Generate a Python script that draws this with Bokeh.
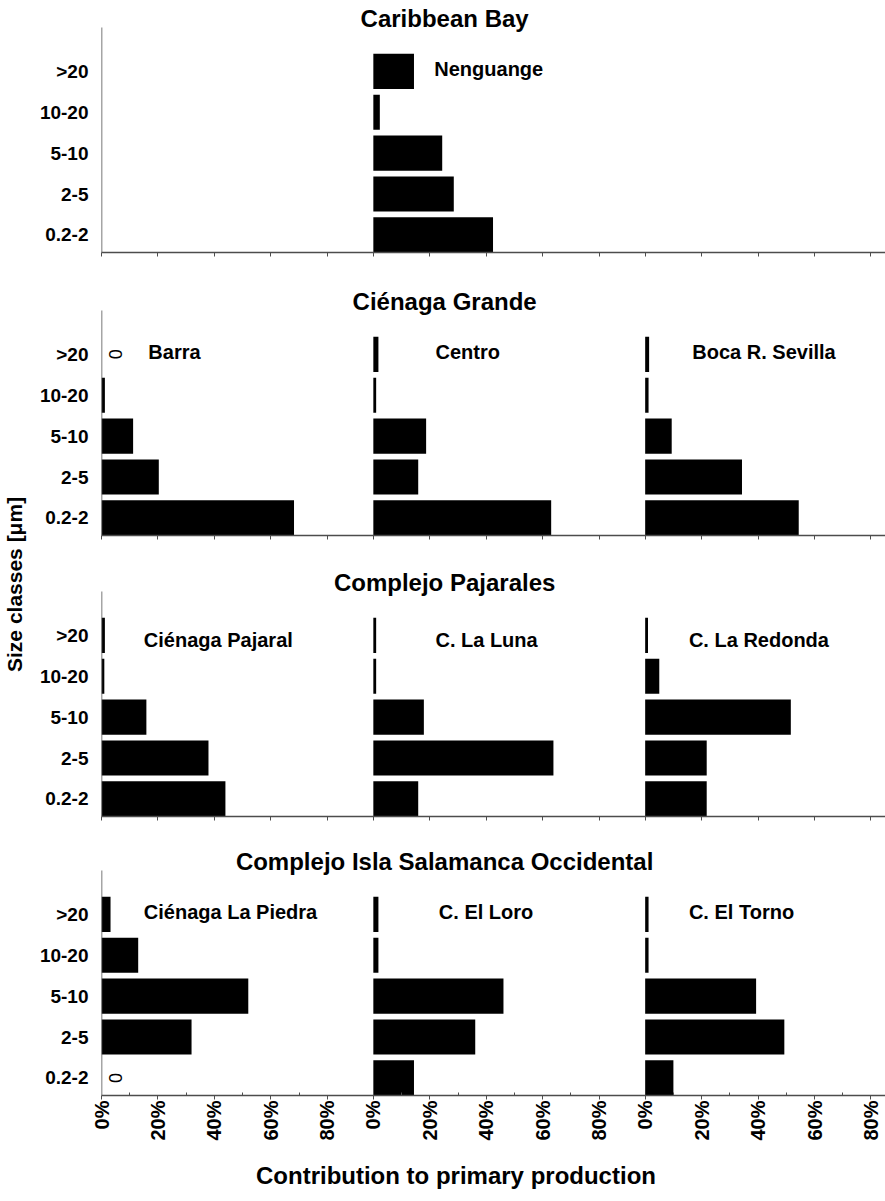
import math
from bokeh.plotting import figure
from bokeh.models import Range1d, FixedTicker
from bokeh.layouts import column, row
from bokeh.embed import file_html
from bokeh.resources import INLINE
from bokeh.core.properties import value

# ---------------- data ----------------
size_classes = ["0.2-2", "2-5", "5-10", "10-20", ">20"]   # bottom -> top
pct_ticks = [0, 20, 40, 60, 80]
pct_labels = ["0%", "20%", "40%", "60%", "80%"]
pct_minor = [10, 30, 50, 70]

group_titles = ["Caribbean Bay", "Ciénaga Grande", "Complejo Pajarales",
                "Complejo Isla Salamanca Occidental"]

# % contribution per size class (0.2-2, 2-5, 5-10, 10-20, >20)
nenguange = [42.4, 28.5, 24.4, 2.3, 14.4]
barra = [68.2, 20.3, 11.2, 1.2, 0.0]
centro = [63.0, 15.9, 18.7, 1.0, 1.8]
boca_sevilla = [54.4, 34.3, 9.4, 1.2, 1.4]
cienaga_pajaral = [43.9, 37.9, 15.9, 1.0, 1.2]
la_luna = [15.9, 63.8, 17.9, 1.0, 1.0]
la_redonda = [21.8, 21.8, 51.6, 5.0, 1.0]
la_piedra = [0.0, 31.9, 52.0, 13.0, 3.2]
el_loro = [14.4, 36.1, 46.1, 1.8, 1.8]
el_torno = [10.0, 49.3, 39.3, 1.2, 1.2]

stations = [
    [(1, "Nenguange", nenguange)],
    [(0, "Barra", barra), (1, "Centro", centro), (2, "Boca R. Sevilla", boca_sevilla)],
    [(0, "Ciénaga Pajaral", cienaga_pajaral), (1, "C. La Luna", la_luna),
     (2, "C. La Redonda", la_redonda)],
    [(0, "Ciénaga La Piedra", la_piedra), (1, "C. El Loro", el_loro),
     (2, "C. El Torno", el_torno)],
]

# ---------------- layout / style ----------------
FONT = value("Liberation Sans")
AXC = "#4d4d4d"
PX100 = 283.0          # px per 100 %
COL_W = 0.963          # column spacing (fraction units)
FRAME_W = 786
YLAB_W = 36
LEFT = 63
SLOT = 40.9            # px per size class
Y0 = -0.43
BAR_H = 0.86
frame_h = [252, 263, 261, 259]
bottom_b = [20, 20, 20, 50]
label_dx = {"Nenguange": 0.216, "Barra": 0.166, "Centro": 0.22, "Boca R. Sevilla": 0.167,
            "Ciénaga Pajaral": 0.15, "C. La Luna": 0.22, "C. La Redonda": 0.155,
            "Ciénaga La Piedra": 0.15, "C. El Loro": 0.232, "C. El Torno": 0.155}
label_y = [4.06, 4.05, 3.89, 4.05]

x_end = FRAME_W / PX100
xt, xm, over = [], [], {}
for c in range(3):
    for t, lab in zip(pct_ticks, pct_labels):
        v = round(c * COL_W + t / 100.0, 4)
        xt.append(v)
        over[v] = lab
    for t in pct_minor:
        xm.append(round(c * COL_W + t / 100.0, 4))

figs = []
for r in range(4):
    fh = frame_h[r]
    p = figure(width=LEFT + FRAME_W, height=fh + bottom_b[r], title=None,
               toolbar_location=None, output_backend="svg",
               x_range=Range1d(0, x_end), y_range=Range1d(Y0, Y0 + fh / SLOT),
               min_border_left=LEFT, min_border_right=0, min_border_top=0,
               min_border_bottom=bottom_b[r])
    p.outline_line_color = None
    p.grid.visible = False
    p.background_fill_color = "white"

    ys, lefts, rights = [], [], []
    zx, zy = [], []
    lx, ly, lt = [], [], []
    for c, name, vals in stations[r]:
        for i, v in enumerate(vals):
            ys.append(i)
            lefts.append(c * COL_W)
            rights.append(c * COL_W + v / 100.0)
            if v == 0:
                zx.append(c * COL_W + 0.048)
                zy.append(i)
        lx.append(c * COL_W + label_dx[name])
        ly.append(label_y[r])
        lt.append(name)
    p.hbar(y=ys, left=lefts, right=rights, height=BAR_H,
           fill_color="black", line_color=None)
    if zx:
        p.text(x=zx, y=zy, text=["0"] * len(zx), angle=math.pi / 2,
               text_font=FONT, text_font_size=value("18px"),
               text_align="center", text_baseline="middle", text_color="black")
    p.text(x=lx, y=ly, text=lt, text_font=FONT, text_font_style="bold",
           text_font_size=value("20px"), text_align="left",
           text_baseline="middle", text_color="black")
    # group title
    p.text(x=[(445 - 101) / PX100], y=[Y0 + 234 / SLOT], text=[group_titles[r]],
           text_font=FONT, text_font_style="bold", text_font_size=value("24px"),
           text_align="center", text_baseline="middle", text_color="black")
    # left axis line of the panel
    p.segment(x0=[0], y0=[Y0], x1=[0], y1=[Y0 + 225 / SLOT],
              line_color=AXC, line_width=1.5)

    # y axis (labels only)
    ya = p.yaxis[0]
    ya.ticker = FixedTicker(ticks=list(range(len(size_classes))))
    ya.major_label_overrides = {i: s for i, s in enumerate(size_classes)}
    ya.axis_line_color = None
    ya.major_tick_line_color = None
    ya.minor_tick_line_color = None
    ya.major_label_text_font = "Liberation Sans"
    ya.major_label_text_font_style = "bold"
    ya.major_label_text_font_size = "19px"
    ya.major_label_text_color = "black"
    ya.major_label_standoff = 7

    xa = p.xaxis[0]
    xa.axis_line_color = AXC
    xa.axis_line_width = 1.5
    xa.major_tick_line_color = AXC
    xa.minor_tick_line_color = AXC
    if r < 3:
        # tick marks only, no labels
        xa.ticker = FixedTicker(ticks=[], minor_ticks=xt)
        xa.minor_tick_in = 0
        xa.minor_tick_out = 4
    else:
        xa.ticker = FixedTicker(ticks=xt, minor_ticks=xm)
        xa.major_label_overrides = over
        xa.major_tick_in = 0
        xa.major_tick_out = 4
        xa.minor_tick_in = 3
        xa.minor_tick_out = 0
        xa.major_label_text_font = "Liberation Sans"
        xa.major_label_text_font_style = "bold"
        xa.major_label_text_font_size = "20px"
        xa.major_label_text_color = "black"
        xa.major_label_orientation = math.pi / 2
        xa.major_label_standoff = 1
    figs.append(p)

col_h = sum(fh + b for fh, b in zip(frame_h, bottom_b))

ylab = figure(width=YLAB_W, height=col_h, title=None, toolbar_location=None,
              output_backend="svg", x_range=Range1d(0, YLAB_W), y_range=Range1d(0, col_h),
              min_border=0)
ylab.axis.visible = False
ylab.grid.visible = False
ylab.outline_line_color = None
ylab.text(x=[14], y=[col_h - 581], text=["Size classes  [μm]"], angle=math.pi / 2,
          text_font=FONT, text_font_style="bold", text_font_size=value("21px"),
          text_align="center", text_baseline="middle", text_color="black")

XLAB_H = 52
total_w = YLAB_W + LEFT + FRAME_W
xlab = figure(width=total_w, height=XLAB_H, title=None, toolbar_location=None,
              output_backend="svg", x_range=Range1d(0, total_w),
              y_range=Range1d(0, XLAB_H), min_border=0)
xlab.axis.visible = False
xlab.grid.visible = False
xlab.outline_line_color = None
xlab.text(x=[458.8], y=[22], text=["Contribution  to primary production"],
          text_font=FONT, text_font_style="bold", text_font_size=value("24px"),
          text_align="center", text_baseline="middle", text_color="black")

layout = column(row(ylab, column(*figs)), xlab)
open("out.html", "w").write(file_html(layout, INLINE))
